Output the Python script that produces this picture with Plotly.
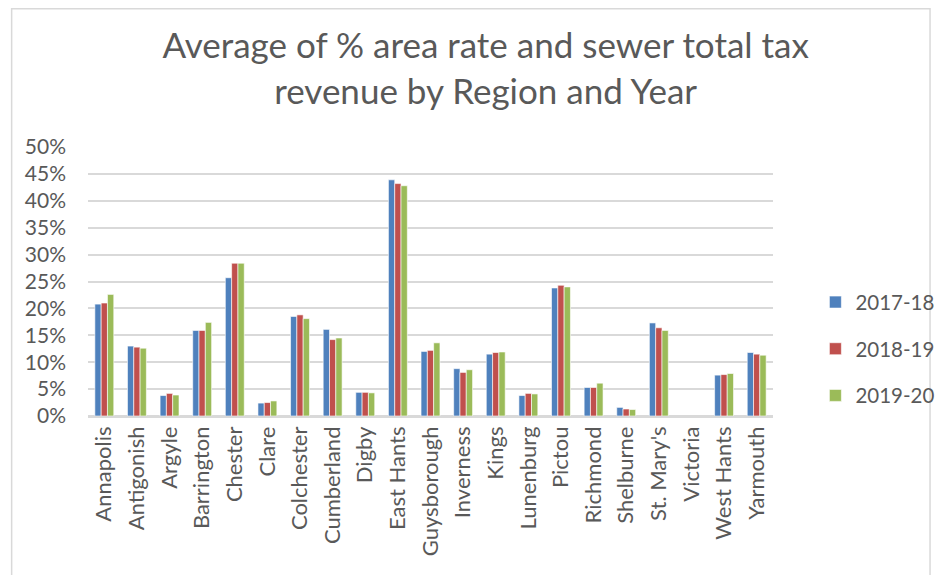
import plotly.graph_objects as go

regions = ["Annapolis", "Antigonish", "Argyle", "Barrington", "Chester", "Clare",
           "Colchester", "Cumberland", "Digby", "East Hants", "Guysborough",
           "Inverness", "Kings", "Lunenburg", "Pictou", "Richmond", "Shelburne",
           "St. Mary's", "Victoria", "West Hants", "Yarmouth"]

y2017_18 = [0.208, 0.130, 0.038, 0.159, 0.257, 0.024, 0.185, 0.161, 0.044, 0.439,
            0.120, 0.088, 0.115, 0.038, 0.238, 0.053, 0.016, 0.173, None, 0.076, 0.118]
y2018_19 = [0.210, 0.128, 0.042, 0.159, 0.284, 0.025, 0.188, 0.142, 0.044, 0.432,
            0.122, 0.081, 0.118, 0.042, 0.243, 0.053, 0.013, 0.164, None, 0.077, 0.115]
y2019_20 = [0.226, 0.126, 0.039, 0.174, 0.284, 0.028, 0.181, 0.145, 0.043, 0.428,
            0.136, 0.086, 0.119, 0.041, 0.240, 0.061, 0.012, 0.159, None, 0.079, 0.113]

series_names = ["2017-18", "2018-19", "2019-20"]
series_vals = [y2017_18, y2018_19, y2019_20]
colors = ["#4F81BD", "#C0504D", "#9BBB59"]

FONT = "Lato"
GREY = "#595959"

fig = go.Figure()
for name, vals, c in zip(series_names, series_vals, colors):
    fig.add_trace(go.Bar(
        x=regions, y=vals, name=name, legendgroup=name,
        marker=dict(color=c, line=dict(color="rgba(255,255,255,0.6)", width=1)),
    ))

# page body has an 8px margin, so the figure is drawn 8px right/down
W, H = 944, 567
ml, mr, mt, mb = 80, 153, 139, 159
pw, ph = W - ml - mr, H - mt - mb

fig.update_layout(
    width=W, height=H,
    margin=dict(l=ml, r=mr, t=mt, b=mb),
    paper_bgcolor="white", plot_bgcolor="white",
    font=dict(family=FONT, color=GREY, size=20),
    barmode="group", bargap=0.42, bargroupgap=0,
    title=dict(
        text="Average of % area rate and sewer total tax<br>revenue by Region and Year",
        x=0.506, xanchor="center", y=1 - 50 / H, yanchor="middle",
        font=dict(family=FONT, size=35, color=GREY),
    ),
    xaxis=dict(
        tickangle=-90, showgrid=False, ticks="", showline=True,
        linecolor="#D9D9D9", linewidth=1.5,
        tickfont=dict(size=22, color=GREY),
    ),
    yaxis=dict(
        range=[0, 0.5], dtick=0.05, tickformat=".0%",
        showgrid=True, gridcolor="#D9D9D9", gridwidth=1.5,
        zeroline=True, zerolinecolor="#D9D9D9", zerolinewidth=1.5,
        ticks="", ticklabelstandoff=21,
        tickfont=dict(size=21, color=GREY),
    ),
    legend=dict(
        x=1.0 + 44 / pw, xanchor="left", y=0.25, yanchor="middle",
        font=dict(size=20.5, color=GREY), tracegroupgap=17,
        bgcolor="rgba(0,0,0,0)",
    ),
    shapes=[dict(
        type="rect", xref="paper", yref="paper",
        x0=(0.75 - ml) / pw, x1=(W + 10 - ml) / pw,
        y0=-(mb + 10) / ph, y1=(H - 0.75 - mb) / ph,
        line=dict(color="#D9D9D9", width=1.5), fillcolor="rgba(0,0,0,0)",
        layer="below",
    )],
)

fig.write_html("out.html")
